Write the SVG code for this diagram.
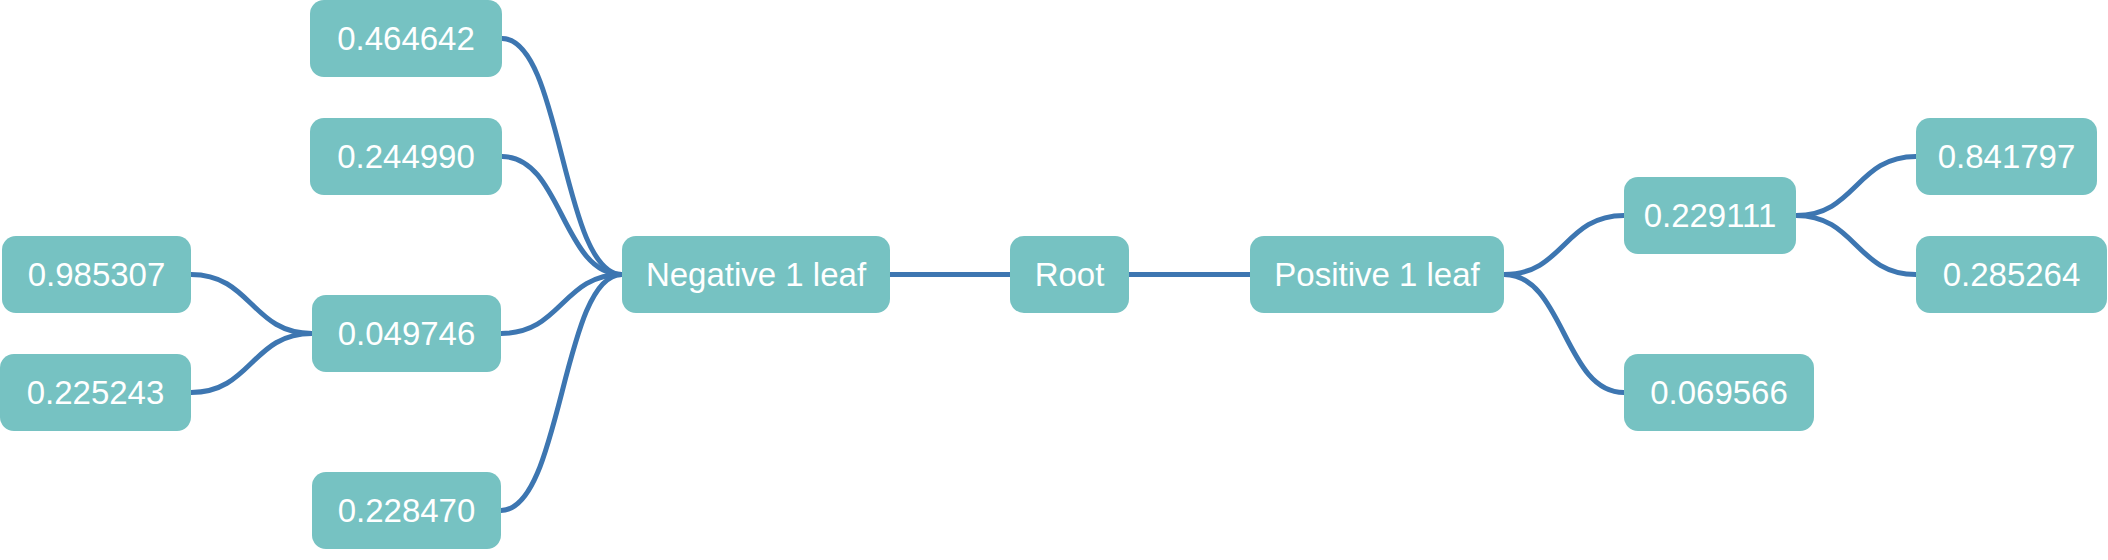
<svg xmlns="http://www.w3.org/2000/svg" width="2108" height="560" viewBox="0 0 2108 560">
<style>
.box{fill:#76C2C2;}
.lbl{fill:#FFFFFF;font-family:"Liberation Sans",Arial,sans-serif;font-size:33px;text-anchor:middle;}
.edge{fill:none;stroke:#3D76B1;stroke-width:5;}
</style>
<rect width="2108" height="560" fill="#FFFFFF"/>
<g id="connectors">
<path class="edge" d="M502 38.5 C562 38.5 562 274.5 622 274.5"/>
<path class="edge" d="M502 156.5 C562 156.5 562 274.5 622 274.5"/>
<path class="edge" d="M501 333.5 C562 333.5 562 274.5 622 274.5"/>
<path class="edge" d="M501 510.5 C562 510.5 562 274.5 622 274.5"/>
<path class="edge" d="M191 274.5 C251.5 274.5 251.5 333.5 312 333.5"/>
<path class="edge" d="M191 392.5 C251.5 392.5 251.5 333.5 312 333.5"/>
<path class="edge" d="M890 274.5 L1010 274.5"/>
<path class="edge" d="M1129 274.5 L1250 274.5"/>
<path class="edge" d="M1504 274.5 C1564 274.5 1564 215.5 1624 215.5"/>
<path class="edge" d="M1504 274.5 C1564 274.5 1564 392.5 1624 392.5"/>
<path class="edge" d="M1796 215.5 C1856 215.5 1856 156.5 1916 156.5"/>
<path class="edge" d="M1796 215.5 C1856 215.5 1856 274.5 1916 274.5"/>
</g>
<g id="n464642"><rect class="box" x="310" y="0" width="192" height="77" rx="14"/><text class="lbl" x="406" y="50">0.464642</text></g>
<g id="n244990"><rect class="box" x="310" y="118" width="192" height="77" rx="14"/><text class="lbl" x="406" y="168">0.244990</text></g>
<g id="n985307"><rect class="box" x="2" y="236" width="189" height="77" rx="14"/><text class="lbl" x="96.5" y="286">0.985307</text></g>
<g id="n225243"><rect class="box" x="0" y="354" width="191" height="77" rx="14"/><text class="lbl" x="95.5" y="404">0.225243</text></g>
<g id="n049746"><rect class="box" x="312" y="295" width="189" height="77" rx="14"/><text class="lbl" x="406.5" y="345">0.049746</text></g>
<g id="n228470"><rect class="box" x="312" y="472" width="189" height="77" rx="14"/><text class="lbl" x="406.5" y="522">0.228470</text></g>
<g id="negative"><rect class="box" x="622" y="236" width="268" height="77" rx="14"/><text class="lbl" x="756" y="286">Negative 1 leaf</text></g>
<g id="root"><rect class="box" x="1010" y="236" width="119" height="77" rx="14"/><text class="lbl" x="1069.5" y="286">Root</text></g>
<g id="positive"><rect class="box" x="1250" y="236" width="254" height="77" rx="14"/><text class="lbl" x="1377" y="286">Positive 1 leaf</text></g>
<g id="n229111"><rect class="box" x="1624" y="177" width="172" height="77" rx="14"/><text class="lbl" x="1710" y="227">0.229111</text></g>
<g id="n069566"><rect class="box" x="1624" y="354" width="190" height="77" rx="14"/><text class="lbl" x="1719" y="404">0.069566</text></g>
<g id="n841797"><rect class="box" x="1916" y="118" width="181" height="77" rx="14"/><text class="lbl" x="2006.5" y="168">0.841797</text></g>
<g id="n285264"><rect class="box" x="1916" y="236" width="191" height="77" rx="14"/><text class="lbl" x="2011.5" y="286">0.285264</text></g>
</svg>
